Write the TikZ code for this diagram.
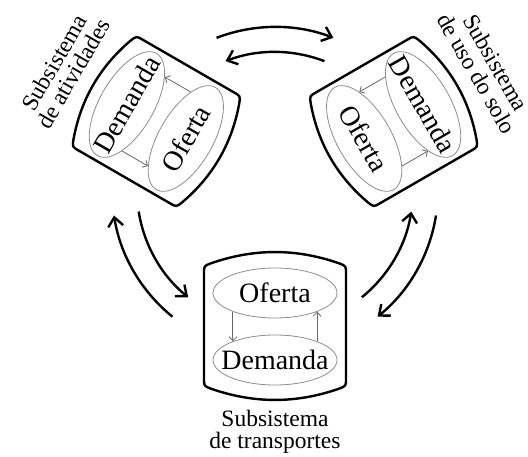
\documentclass[tikz,border=0pt]{standalone}
\usepackage{fontspec}
\setmainfont{Liberation Serif}
\usetikzlibrary{arrows.meta,shapes.geometric}

\tikzset{
  casco/.style={line width=2.4pt},
  elip/.style={draw=black!45, line width=0.8pt, ellipse, inner sep=0pt,
    font=\fontsize{28}{30}\selectfont},
  seta/.style={draw=black!60, line width=0.8pt, -{Straight Barb[length=4pt,width=8pt]}},
  ciclo/.style={line width=2.4pt, -{Straight Barb[length=9pt,width=15pt]}},
  rotulo/.style={align=center, font=\fontsize{23.5}{22}\selectfont},
}

\begin{document}
\begin{tikzpicture}[x=1pt,y=1pt]
\useasboundingbox (-275,-267) rectangle (253,190);

% subsistema de atividades
\begin{scope}[shift={(150:137)}, rotate=60, transform shape]
  \draw[casco] (-64,-53) -- (-64,53) .. controls (-64,60) .. (-57,62.8)
    .. controls (-19,76.4) and (19,76.4) .. (57,62.8) .. controls (64,60) .. (64,53)
    -- (64,-53) .. controls (64,-60) .. (57,-62.8)
    .. controls (19,-76.4) and (-19,-76.4) .. (-57,-62.8) .. controls (-64,-60) .. cycle;
  \node[elip, minimum width=118, minimum height=54] (act-dem) at (0,34) {\makebox[0pt]{Demanda}};
  \node[elip, minimum width=118, minimum height=54] (act-of) at (0,-34) {\makebox[0pt]{Oferta}};
  \draw[seta] (act-dem.204) -- (act-of.156);
  \draw[seta] (act-of.24) -- (act-dem.-24);
\end{scope}

% subsistema de uso do solo
\begin{scope}[shift={(30:137)}, rotate=-60, transform shape]
  \draw[casco] (-64,-53) -- (-64,53) .. controls (-64,60) .. (-57,62.8)
    .. controls (-19,76.4) and (19,76.4) .. (57,62.8) .. controls (64,60) .. (64,53)
    -- (64,-53) .. controls (64,-60) .. (57,-62.8)
    .. controls (19,-76.4) and (-19,-76.4) .. (-57,-62.8) .. controls (-64,-60) .. cycle;
  \node[elip, minimum width=118, minimum height=54] (uso-dem) at (0,34) {\makebox[0pt]{Demanda}};
  \node[elip, minimum width=118, minimum height=54] (uso-of) at (0,-34) {\makebox[0pt]{Oferta}};
  \draw[seta] (uso-dem.204) -- (uso-of.156);
  \draw[seta] (uso-of.24) -- (uso-dem.-24);
\end{scope}

% subsistema de transportes
\begin{scope}[shift={(270:136)}]
  \draw[casco] (-71,-53) -- (-71,53) .. controls (-71,60) .. (-64,62.7)
    .. controls (-21,77.7) and (21,77.7) .. (64,62.7) .. controls (71,60) .. (71,53)
    -- (71,-53) .. controls (71,-60) .. (64,-62.7)
    .. controls (21,-77.7) and (-21,-77.7) .. (-64,-62.7) .. controls (-71,-60) .. cycle;
  \node[elip, minimum width=124, minimum height=50] (tra-of) at (0,33) {\makebox[0pt]{Oferta}};
  \node[elip, minimum width=124, minimum height=50] (tra-dem) at (0,-34) {\makebox[0pt]{Demanda}};
  \draw[seta] (tra-of.204) -- (tra-dem.156);
  \draw[seta] (tra-dem.24) -- (tra-of.-24);
\end{scope}

% rotulos
\node[rotulo, rotate=60] (lbl-act) at (150:244) {Subsistema\\de atividades};
\node[rotulo, rotate=-60] (lbl-uso) at (30:244) {Subsistema\\de uso do solo};
\node[rotulo] (lbl-tra) at (270:242) {Subsistema\\de transportes};

% setas entre subsistemas
\foreach \c in {90,210,330}{
  \coordinate (ext-\c) at ({\c+21}:163);
  \draw[ciclo] (ext-\c) arc[start angle=\c+21, end angle=\c-21, radius=163];
  \coordinate (int-\c) at ({\c-21}:138);
  \draw[ciclo] (int-\c) arc[start angle=\c-21, end angle=\c+21, radius=138];
}
\end{tikzpicture}
\end{document}
